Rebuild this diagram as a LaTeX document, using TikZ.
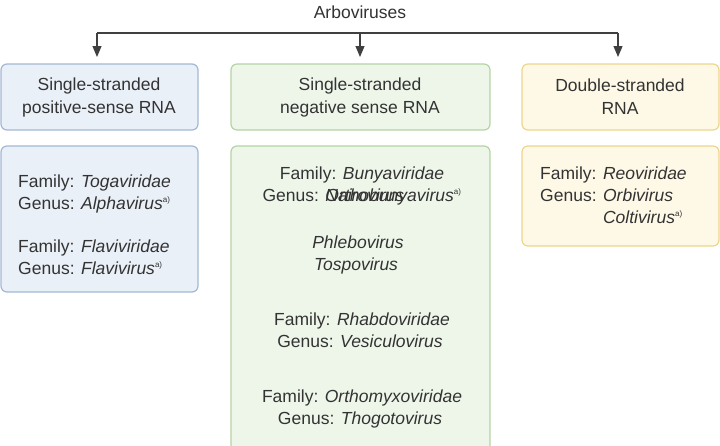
\documentclass[tikz,border=0pt]{standalone}
\usepackage{fontspec}
\setmainfont{Liberation Sans}
\usetikzlibrary{arrows.meta}
\definecolor{bfill}{HTML}{EAF0F8}\definecolor{bdraw}{HTML}{A3B8D4}
\definecolor{gfill}{HTML}{EEF6EA}\definecolor{gdraw}{HTML}{B5D4A4}
\definecolor{yfill}{HTML}{FEF8E6}\definecolor{ydraw}{HTML}{EED68C}
\definecolor{txt}{HTML}{333333}
\begin{document}
\begin{tikzpicture}[x=1pt,y=-1pt,
  panel/.style={rounded corners=6pt,line width=1.2pt},
  t/.style={anchor=base west,inner sep=0pt,text=txt,font=\fontsize{17.5}{20}\selectfont},
  tc/.style={t,anchor=base},
  hd/.style={anchor=center,inner sep=0pt,text=txt,align=center,font=\fontsize{17.5}{23}\selectfont},
  arr/.style={draw=black!75,line width=1.2pt,-{Triangle[width=9pt,length=11pt]}}]
\useasboundingbox (0,0) rectangle (720,445);
\newcommand{\sups}[1]{\textsuperscript{\fontsize{8}{9}\selectfont #1}}
\node[hd] (title) at (360,12) {Arboviruses};
% panels
\draw[panel,fill=bfill,draw=bdraw] (1,64) rectangle (198,130);
\draw[panel,fill=bfill,draw=bdraw] (1,146) rectangle (198,292);
\draw[panel,fill=gfill,draw=gdraw] (231,64) rectangle (490,130);
\draw[panel,fill=gfill,draw=gdraw] (231,146) rectangle (490,460);
\draw[panel,fill=yfill,draw=ydraw] (522,64) rectangle (719,130);
\draw[panel,fill=yfill,draw=ydraw] (522,146) rectangle (719,246);
\node[hd] (h1) at (99,97) {Single-stranded\\positive-sense RNA};
\node[hd] (h2) at (360,97) {Single-stranded\\negative sense RNA};
\node[hd] (h3) at (620,97) {Double-stranded\\RNA};
\coordinate (j1) at (97,33); \coordinate (j3) at (618,33); \coordinate (j2) at (360,33);
\draw[black!75,line width=1.2pt] (j1) -- (j3);
\coordinate (e1) at (97,57); \coordinate (e2) at (360,57); \coordinate (e3) at (618,57);
\draw[arr] (j1) -- (e1); \draw[arr] (j2) -- (e2); \draw[arr] (j3) -- (e3);
% left content
\node[t] (a1) at (18,187) {Family: \textit{Togaviridae}};
\node[t] (a2) at (18,209) {Genus: \textit{Alphavirus}\sups{a)}};
\node[t] (a3) at (18,252) {Family: \textit{Flaviviridae}};
\node[t] (a4) at (18,274) {Genus: \textit{Flavivirus}\sups{a)}};
% middle content
\node[tc] (b1) at (362,179) {Family: \textit{Bunyaviridae}};
\node[tc] (b2) at (362,201) {Genus: \textit{Orthobunyavirus}\sups{a)}};
\node[t] (b3) at (b2.base west) {\phantom{Genus: }\textit{Nairovirus}};
\node[t,yshift=-23pt] at (b3.base west) {};
\node[tc] (b4) at (358,248) {\textit{Phlebovirus}};
\node[tc] (b5) at (356,270) {\textit{Tospovirus}};
\node[tc] (b6) at (362,325) {Family: \textit{Rhabdoviridae}};
\node[tc] (b7) at (360,347) {Genus: \textit{Vesiculovirus}};
\node[tc] (b8) at (362,402) {Family: \textit{Orthomyxoviridae}};
\node[tc] (b9) at (360,424) {Genus: \textit{Thogotovirus}};
% right content
\node[t] (c1) at (540,179) {Family: \textit{Reoviridae}};
\node[t] (c2) at (540,201) {Genus: \textit{Orbivirus}};
\node[t] (c3) at (540,223) {\phantom{Genus: }\textit{Coltivirus}\sups{a)}};
\end{tikzpicture}
\end{document}
